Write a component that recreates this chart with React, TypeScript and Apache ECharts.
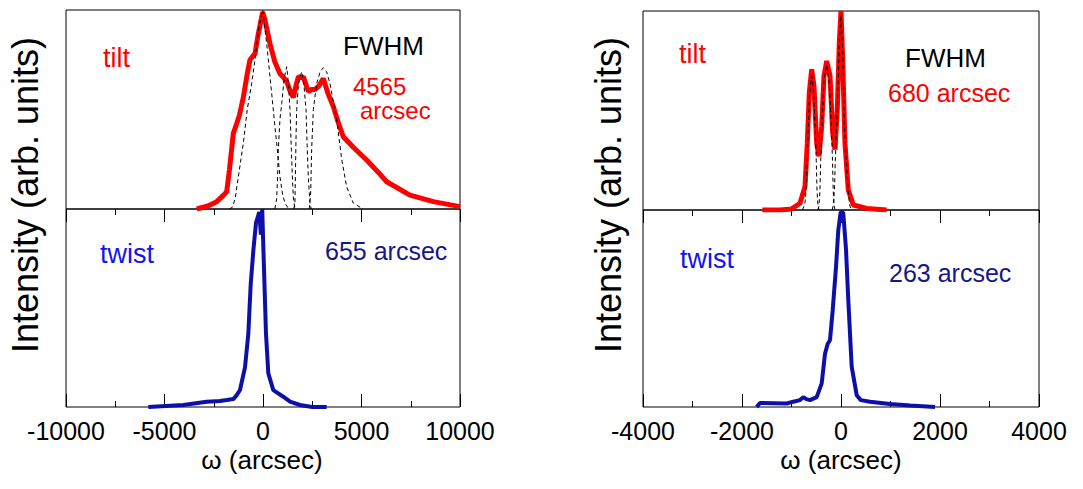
import React, { useEffect, useRef } from "react";
import * as echarts from "echarts";

// ---- tick labels ----
const leftTicks = [-10000, -5000, 0, 5000, 10000];
const rightTicks = [-4000, -2000, 0, 2000, 4000];

// ---- left panel, tilt (red) ----
const tiltLeft: [number, number][] = [
  [-3365, 0], [-2800, 0.015], [-2350, 0.037], [-2000, 0.07], [-1843, 0.087], [-1700, 0.2],
  [-1506, 0.38], [-1335, 0.43], [-1200, 0.47], [-1000, 0.56], [-800, 0.68], [-660, 0.75],
  [-500, 0.77], [-406, 0.78], [-240, 0.88], [-15, 0.99], [100, 0.95], [355, 0.83],
  [600, 0.74], [863, 0.68], [1050, 0.66], [1203, 0.64], [1350, 0.6], [1540, 0.56],
  [1700, 0.63], [1795, 0.665], [1950, 0.66], [2050, 0.665], [2300, 0.59], [2450, 0.6],
  [2640, 0.6], [2850, 0.62], [3060, 0.656], [3300, 0.58], [3570, 0.515], [3800, 0.44],
  [4076, 0.363], [4584, 0.31], [5260, 0.246], [5800, 0.19], [6280, 0.137], [7460, 0.07],
  [8650, 0.037], [10000, 0.012],
];
// fitted components (dashed)
const compLeftA: [number, number][] = [
  [-1700, 0], [-1540, 0.01], [-1400, 0.06], [-1254, 0.16], [-1120, 0.25], [-1000, 0.33],
  [-800, 0.5], [-574, 0.63], [-406, 0.75], [-200, 0.92], [-15, 1.0], [188, 0.83],
  [441, 0.58], [600, 0.42], [695, 0.33], [863, 0.16], [1000, 0.07], [1117, 0.03], [1300, 0],
];
const compLeftB: [number, number][] = [
  [600, 0], [693, 0.05], [740, 0.16], [778, 0.3], [860, 0.45], [950, 0.53], [1080, 0.66],
  [1203, 0.715], [1300, 0.62], [1370, 0.5], [1420, 0.35], [1456, 0.25], [1500, 0.14],
  [1540, 0.06], [1620, 0],
];
const compLeftC: [number, number][] = [
  [1560, 0], [1620, 0.03], [1650, 0.2], [1680, 0.38], [1710, 0.5], [1800, 0.63], [1963, 0.69],
  [2080, 0.62], [2183, 0.5], [2240, 0.32], [2300, 0.16], [2385, 0.03], [2450, 0],
];
const compLeftE: [number, number][] = [
  [2350, 0], [2420, 0.08], [2470, 0.3], [2555, 0.5], [2724, 0.63], [2900, 0.69], [3061, 0.71],
  [3230, 0.69], [3400, 0.63], [3740, 0.45], [3995, 0.25], [4250, 0.11], [4585, 0.03], [5076, 0],
];

// ---- left panel, twist (blue) ----
const twistLeft: [number, number][] = [
  [-5820, 0], [-4046, 0.01], [-2860, 0.027], [-2183, 0.03], [-1843, 0.035], [-1508, 0.04],
  [-1335, 0.06], [-1168, 0.086], [-914, 0.2], [-745, 0.37], [-624, 0.62], [-490, 0.79],
  [-355, 0.93], [-188, 0.985], [-110, 0.87], [-40, 1.0], [50, 0.7], [152, 0.37], [270, 0.17],
  [523, 0.085], [1030, 0.052], [1370, 0.027], [1878, 0.01], [2500, 0], [3230, 0],
];

// ---- right panel, tilt (red) ----
const tiltRight: [number, number][] = [
  [-1590, 0], [-1233, 0], [-1000, 0.005], [-828, 0.034], [-727, 0.118], [-681, 0.336],
  [-640, 0.59], [-592, 0.707], [-546, 0.623], [-491, 0.336], [-445, 0.27], [-390, 0.42],
  [-344, 0.673], [-289, 0.749], [-222, 0.673], [-168, 0.387], [-121, 0.303], [-75, 0.505],
  [-34, 0.842], [0, 1.0], [34, 0.758], [80, 0.336], [147, 0.101], [248, 0.025], [519, 0.008],
  [923, 0],
];
const compRight1: [number, number][] = [
  [-780, 0], [-730, 0.03], [-700, 0.12], [-675, 0.3], [-640, 0.56], [-592, 0.69], [-550, 0.58],
  [-520, 0.4], [-500, 0.25], [-485, 0.1], [-465, 0.02], [-440, 0],
];
const compRight2: [number, number][] = [
  [-470, 0], [-445, 0.02], [-425, 0.1], [-410, 0.25], [-385, 0.42], [-345, 0.65], [-289, 0.73],
  [-230, 0.62], [-195, 0.42], [-172, 0.25], [-158, 0.1], [-140, 0.02], [-120, 0],
];
const compRight3: [number, number][] = [
  [-180, 0], [-150, 0.03], [-130, 0.12], [-115, 0.25], [-75, 0.5], [-34, 0.84], [0, 0.98],
  [34, 0.8], [70, 0.42], [95, 0.3], [125, 0.18], [150, 0.08], [180, 0.02], [220, 0],
];

// ---- right panel, twist (blue) ----
const twistRight: [number, number][] = [
  [-1703, 0], [-1637, 0.02], [-1097, 0.018], [-964, 0.027], [-828, 0.035], [-762, 0.05],
  [-700, 0.04], [-627, 0.035], [-491, 0.05], [-390, 0.12], [-323, 0.27], [-270, 0.32],
  [-222, 0.34], [-168, 0.49], [-101, 0.71], [-54, 0.9], [-6, 0.99], [46, 0.985], [101, 0.8],
  [148, 0.54], [216, 0.205], [317, 0.06], [400, 0.035], [585, 0.027], [990, 0.015],
  [1400, 0.008], [1899, 0],
];

const FONT = "'Liberation Sans', Arial, Helvetica, sans-serif";
const RED = "#ff0000";
const BLUE_LINE = "#0c10a8";
const BLUE_TEXT = "#1414f0";
const NAVY = "#16168c";

function makeGrid(left: number, top: number, width: number, height: number) {
  return {
    left, top, width, height, show: true, borderColor: "#000", borderWidth: 1,
    backgroundColor: "transparent", containLabel: false,
  };
}

function makeX(gridIndex: number, ticks: number[], top: boolean) {
  return {
    type: "value", gridIndex, min: ticks[0], max: ticks[ticks.length - 1],
    interval: ticks[1] - ticks[0], position: top ? "top" : "bottom",
    axisLine: { show: false },
    axisTick: { show: true, inside: true, length: 13, lineStyle: { color: "#000", width: 1 } },
    minorTick: { show: true, splitNumber: 2, length: 6, lineStyle: { color: "#000", width: 1 } },
    axisLabel: top
      ? { show: false }
      : { show: true, color: "#000", fontSize: 25, fontFamily: FONT, margin: 11,
          formatter: (v: number) => String(v) },
    splitLine: { show: false }, minorSplitLine: { show: false },
  };
}

function makeY(gridIndex: number) {
  return {
    type: "value", gridIndex, min: 0, max: 1,
    axisLine: { show: false }, axisTick: { show: false }, axisLabel: { show: false },
    splitLine: { show: false },
  };
}

function line(idx: number, data: [number, number][], color: string, width: number, dashed = false, z = 2) {
  return {
    type: "line", xAxisIndex: idx, yAxisIndex: idx, data, symbol: "none", showSymbol: false,
    lineStyle: { color, width, type: dashed ? [4, 3] : "solid" }, z, silent: true,
  };
}

function txt(text: string, x: number, baseline: number, fs: number, color: string, align = "left") {
  return {
    type: "text", x, y: baseline - 0.3465 * fs, silent: true,
    style: { text, fill: color, fontSize: fs, fontFamily: FONT, align, verticalAlign: "middle" },
  };
}

export default function App() {
  const ref = useRef<HTMLDivElement>(null);
  useEffect(() => {
    if (!ref.current) return;
    const chart = echarts.init(ref.current, undefined, { renderer: "svg" });
    const option = {
      animation: false,
      backgroundColor: "#fff",
      grid: [
        makeGrid(66, 10, 394, 199),
        makeGrid(66, 209, 394, 198),
        makeGrid(643, 11, 396, 199),
        makeGrid(643, 210, 396, 197),
      ],
      xAxis: [
        makeX(0, leftTicks, true), makeX(1, leftTicks, false),
        makeX(2, rightTicks, true), makeX(3, rightTicks, false),
      ],
      yAxis: [makeY(0), makeY(1), makeY(2), makeY(3)],
      series: [
        line(0, tiltLeft, RED, 5),
        line(0, compLeftA, "#000", 1, true, 3),
        line(0, compLeftB, "#000", 1, true, 3),
        line(0, compLeftC, "#000", 1, true, 3),
        line(0, compLeftE, "#000", 1, true, 3),
        line(1, twistLeft, BLUE_LINE, 4),
        line(2, tiltRight, RED, 5),
        line(2, compRight1, "#000", 1, true, 3),
        line(2, compRight2, "#000", 1, true, 3),
        line(2, compRight3, "#000", 1, true, 3),
        line(3, twistRight, BLUE_LINE, 4),
      ],
      graphic: [
        txt("tilt", 103, 67, 27, RED),
        txt("FWHM", 343, 55, 26, "#000"),
        {
          type: "text", x: 353, y: 95 - 0.3465 * 24 + 12, silent: true,
          style: {
            text: "4565\n{a|arcsec}", fill: RED, fontSize: 24, fontFamily: FONT, lineHeight: 24,
            align: "left", verticalAlign: "middle",
            rich: { a: { fill: RED, fontSize: 24, fontFamily: FONT, lineHeight: 24, padding: [0, 0, 0, 7] } },
          },
        },
        txt("twist", 100, 263, 27, BLUE_TEXT),
        txt("655 arcsec", 325, 260, 25, NAVY),
        txt("tilt", 679, 63, 27, RED),
        txt("FWHM", 905, 67, 26, "#000"),
        txt("680 arcsec", 888, 102, 25, RED),
        txt("twist", 680, 268, 27, BLUE_TEXT),
        txt("263 arcsec", 889, 282, 25, NAVY),
        txt("ω (arcsec)", 262, 469, 26, "#000", "center"),
        txt("ω (arcsec)", 841, 469, 26, "#000", "center"),
        {
          type: "text", x: 25, y: 195, rotation: Math.PI / 2, silent: true,
          style: { text: "Intensity (arb. units)", fill: "#000", fontSize: 36, fontFamily: FONT,
            align: "center", verticalAlign: "middle" },
        },
        {
          type: "text", x: 608, y: 195, rotation: Math.PI / 2, silent: true,
          style: { text: "Intensity (arb. units)", fill: "#000", fontSize: 36, fontFamily: FONT,
            align: "center", verticalAlign: "middle" },
        },
      ],
    };
    chart.setOption(option as any);
    return () => chart.dispose();
  }, []);
  return (
    <div
      ref={ref}
      style={{ position: "absolute", left: 0, top: 0, width: 1083, height: 489 }}
    />
  );
}
